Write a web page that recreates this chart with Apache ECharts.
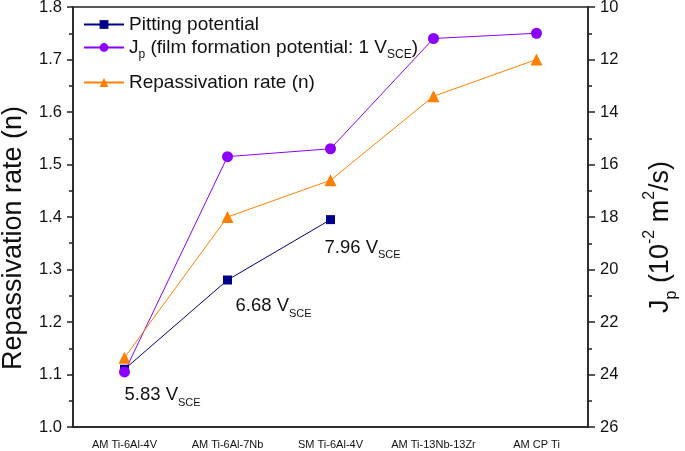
<!DOCTYPE html>
<html><head><meta charset="utf-8">
<script src="https://cdn.jsdelivr.net/npm/echarts@6/dist/echarts.min.js"></script>
<style>html,body{margin:0;padding:0;background:#fff}#c{width:685px;height:451px}</style>
</head><body><div id="c"></div>
<script>
const categories = ['AM Ti-6Al-4V', 'AM Ti-6Al-7Nb', 'SM Ti-6Al-4V', 'AM Ti-13Nb-13Zr', 'AM CP Ti'];
const pitting = [1.11, 1.28, 1.395, '-', '-'];
const pittingLabels = ['5.83', '6.68', '7.96'];
const jp = [23.9, 15.7, 15.4, 11.2, 11.0];
const repass = [1.132, 1.40, 1.47, 1.63, 1.70];

const labelOffsets = [[0, 26], [8, 26], [-6, 28]];
const FONT = 'Liberation Sans, Arial, sans-serif';
const AX = '#222';
const BLUE = '#00008b', PURPLE = '#8c00ff', ORANGE = '#ff8000';

const richLabel = {
  n: { fontSize: 18.5, fontFamily: FONT, color: '#111', lineHeight: 26, verticalAlign: 'middle' },
  s: { fontSize: 11, fontFamily: FONT, color: '#111', lineHeight: 11, verticalAlign: 'bottom' }
};
const richLegend = {
  n: { fontSize: 19, fontFamily: FONT, color: '#111', lineHeight: 26, verticalAlign: 'middle' },
  s: { fontSize: 12, fontFamily: FONT, color: '#111', lineHeight: 12, verticalAlign: 'bottom' }
};
const richName = {
  n: { fontSize: 27, fontFamily: FONT, color: '#111', lineHeight: 38, verticalAlign: 'middle' },
  s: { fontSize: 16, fontFamily: FONT, color: '#111', lineHeight: 16, verticalAlign: 'bottom' },
  u: { fontSize: 16, fontFamily: FONT, color: '#111', lineHeight: 16, verticalAlign: 'top' }
};

const chart = echarts.init(document.getElementById('c'));
const legendBase = {
  left: 78, orient: 'vertical', itemWidth: 40, itemHeight: 11, itemGap: 0,
  textStyle: { fontFamily: FONT, fontSize: 19, color: '#111', padding: [0, 0, 0, 0], rich: richLegend }
};
chart.setOption({
  animation: false,
  grid: { left: 73, right: 97, top: 7, bottom: 24, show: true, borderColor: AX, borderWidth: 1.5,
    containLabel: false, outerBoundsMode: 'none' },
  legend: [
    Object.assign({}, legendBase, { top: 10, data: ['Pitting potential'] }),
    Object.assign({}, legendBase, { top: 33, data: ['Jp'],
      formatter: () => '{n|J}{s|p}{n| (film formation potential: 1 V}{s|SCE}{n|)}' }),
    Object.assign({}, legendBase, { top: 68, data: ['Repassivation rate (n)'] })
  ],
  xAxis: {
    type: 'category', data: categories, boundaryGap: true,
    axisLine: { lineStyle: { color: AX, width: 1.5 } },
    axisTick: { alignWithLabel: true, length: 6, lineStyle: { color: AX, width: 1.5 } },
    axisLabel: { fontFamily: FONT, fontSize: 11, color: '#111', margin: 12, interval: 0 },
    splitLine: { show: false }
  },
  yAxis: [
    {
      type: 'value', min: 1.0, max: 1.8, interval: 0.1, position: 'left',
      name: 'Repassivation rate (n)', nameLocation: 'middle', nameRotate: 90, nameGap: 46,
      nameTextStyle: { fontFamily: FONT, fontSize: 27, color: '#111', padding: [0, 42, 0, 0] },
      axisLine: { show: true, lineStyle: { color: AX, width: 1.5 } },
      axisTick: { show: true, length: 6, lineStyle: { color: AX, width: 1.5 } },
      minorTick: { show: true, splitNumber: 2, length: 4, lineStyle: { color: AX, width: 1.5 } },
      axisLabel: { fontFamily: FONT, fontSize: 16.5, color: '#111', margin: 11, formatter: v => v.toFixed(1) },
      splitLine: { show: false }
    },
    {
      type: 'value', min: 10, max: 26, interval: 2, inverse: true, position: 'right',
      name: '{n|J}{s|p}{n| (10}{u|-2}{n| m}{u|2}{n|/s)}', nameLocation: 'middle', nameRotate: 90, nameGap: 54,
      nameTextStyle: { fontFamily: FONT, fontSize: 27, color: '#111', padding: [0, 40, 0, 0], rich: richName },
      axisLine: { show: true, lineStyle: { color: AX, width: 1.5 } },
      axisTick: { show: true, length: 7, lineStyle: { color: AX, width: 1.5 } },
      minorTick: { show: true, splitNumber: 2, length: 4, lineStyle: { color: AX, width: 1.5 } },
      axisLabel: { fontFamily: FONT, fontSize: 16.5, color: '#111', margin: 12 },
      splitLine: { show: false }
    }
  ],
  series: [
    {
      name: 'Pitting potential', type: 'line', yAxisIndex: 0,
      data: pitting.map((v, i) => i < pittingLabels.length ? {
        value: v,
        label: { show: true, position: 'inside', align: 'left', offset: labelOffsets[i],
          formatter: '{n|' + pittingLabels[i] + ' V}{s|SCE}', rich: richLabel }
      } : v),
      symbol: 'rect', symbolSize: 9, color: BLUE,
      lineStyle: { color: BLUE, width: 1 }, itemStyle: { color: BLUE }
    },
    {
      name: 'Jp', type: 'line', yAxisIndex: 1, data: jp,
      symbol: 'circle', symbolSize: 11, color: PURPLE,
      lineStyle: { color: PURPLE, width: 1 }, itemStyle: { color: PURPLE }
    },
    {
      name: 'Repassivation rate (n)', type: 'line', yAxisIndex: 0, data: repass,
      symbol: 'triangle', symbolSize: 12, color: ORANGE,
      lineStyle: { color: ORANGE, width: 1 }, itemStyle: { color: ORANGE }
    }
  ]
});
</script></body></html>
